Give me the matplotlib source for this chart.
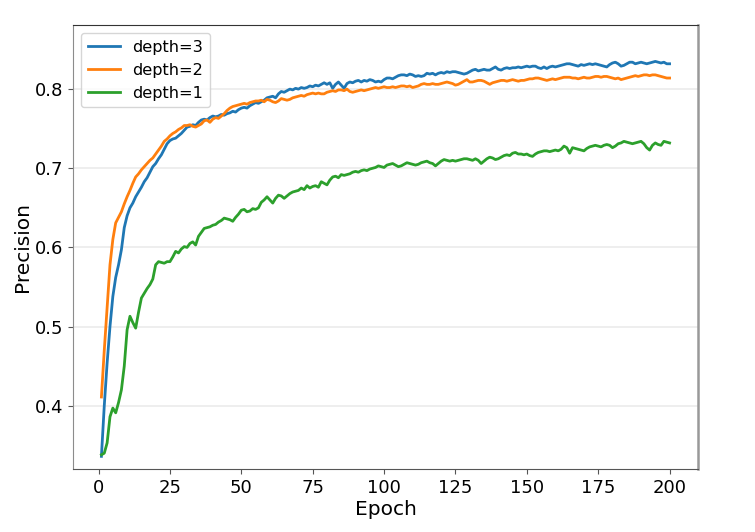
import numpy as np
import matplotlib.pyplot as plt

epochs = np.arange(1, 201)

depth3 = [0.336, 0.400, 0.454, 0.500, 0.538, 0.562, 0.578, 0.597, 0.625, 0.640,
          0.650, 0.656, 0.664, 0.670, 0.676, 0.683, 0.688, 0.695, 0.702, 0.706,
          0.712, 0.717, 0.724, 0.731, 0.735, 0.737, 0.738, 0.741, 0.744, 0.748,
          0.752, 0.753, 0.755, 0.754, 0.758, 0.761, 0.762, 0.761, 0.764, 0.766,
          0.765, 0.766, 0.768, 0.767, 0.769, 0.770, 0.772, 0.771, 0.774, 0.776,
          0.777, 0.776, 0.779, 0.781, 0.783, 0.782, 0.784, 0.786, 0.789, 0.790,
          0.791, 0.789, 0.794, 0.797, 0.796, 0.798, 0.800, 0.799, 0.801, 0.800,
          0.802, 0.801, 0.802, 0.804, 0.803, 0.805, 0.804, 0.806, 0.808, 0.806,
          0.808, 0.801, 0.806, 0.809, 0.805, 0.801, 0.807, 0.809, 0.808, 0.810,
          0.811, 0.809, 0.811, 0.810, 0.812, 0.811, 0.809, 0.810, 0.809, 0.812,
          0.814, 0.814, 0.813, 0.815, 0.817, 0.818, 0.818, 0.817, 0.819, 0.818,
          0.816, 0.817, 0.816, 0.817, 0.820, 0.819, 0.820, 0.818, 0.820, 0.821,
          0.820, 0.822, 0.821, 0.822, 0.822, 0.821, 0.820, 0.819, 0.820, 0.822,
          0.824, 0.825, 0.823, 0.824, 0.825, 0.824, 0.824, 0.826, 0.828, 0.825,
          0.824, 0.826, 0.827, 0.826, 0.827, 0.827, 0.828, 0.827, 0.828, 0.829,
          0.828, 0.829, 0.829, 0.827, 0.826, 0.828, 0.826, 0.828, 0.829, 0.828,
          0.829, 0.830, 0.831, 0.832, 0.832, 0.831, 0.830, 0.829, 0.831, 0.830,
          0.831, 0.832, 0.831, 0.832, 0.831, 0.830, 0.829, 0.828, 0.831, 0.833,
          0.834, 0.832, 0.829, 0.830, 0.832, 0.834, 0.834, 0.832, 0.833, 0.834,
          0.833, 0.832, 0.833, 0.834, 0.835, 0.834, 0.833, 0.834, 0.832, 0.832]

depth2 = [0.411, 0.470, 0.525, 0.578, 0.610, 0.631, 0.638, 0.645, 0.655, 0.664,
          0.672, 0.681, 0.689, 0.693, 0.698, 0.702, 0.706, 0.710, 0.713, 0.718,
          0.723, 0.728, 0.734, 0.737, 0.741, 0.744, 0.746, 0.749, 0.751, 0.754,
          0.754, 0.755, 0.753, 0.752, 0.754, 0.756, 0.760, 0.761, 0.758, 0.762,
          0.764, 0.763, 0.766, 0.769, 0.773, 0.776, 0.778, 0.779, 0.780, 0.781,
          0.782, 0.781, 0.783, 0.784, 0.785, 0.785, 0.786, 0.784, 0.787, 0.786,
          0.784, 0.783, 0.785, 0.788, 0.787, 0.786, 0.787, 0.789, 0.790, 0.791,
          0.792, 0.791, 0.793, 0.794, 0.795, 0.794, 0.795, 0.794, 0.794, 0.796,
          0.797, 0.798, 0.797, 0.799, 0.799, 0.798, 0.800, 0.797, 0.796, 0.797,
          0.798, 0.799, 0.798, 0.799, 0.800, 0.801, 0.802, 0.801, 0.802, 0.803,
          0.802, 0.802, 0.803, 0.802, 0.803, 0.804, 0.804, 0.803, 0.804, 0.802,
          0.803, 0.804, 0.806, 0.807, 0.806, 0.806, 0.807, 0.806, 0.806, 0.807,
          0.808, 0.809, 0.808, 0.807, 0.805, 0.806, 0.808, 0.810, 0.812, 0.809,
          0.809, 0.810, 0.811, 0.811, 0.810, 0.808, 0.806, 0.808, 0.809, 0.810,
          0.811, 0.811, 0.810, 0.811, 0.812, 0.811, 0.810, 0.811, 0.811, 0.812,
          0.813, 0.813, 0.814, 0.814, 0.813, 0.812, 0.811, 0.812, 0.813, 0.812,
          0.813, 0.814, 0.815, 0.815, 0.815, 0.814, 0.814, 0.813, 0.814, 0.815,
          0.814, 0.814, 0.815, 0.816, 0.816, 0.815, 0.816, 0.816, 0.815, 0.814,
          0.813, 0.814, 0.812, 0.813, 0.814, 0.815, 0.816, 0.817, 0.816, 0.817,
          0.818, 0.818, 0.817, 0.818, 0.818, 0.817, 0.816, 0.815, 0.814, 0.814]

depth1 = [0.338, 0.340, 0.353, 0.386, 0.397, 0.391, 0.404, 0.420, 0.450, 0.496,
          0.513, 0.505, 0.498, 0.518, 0.536, 0.542, 0.548, 0.553, 0.560, 0.578,
          0.582, 0.581, 0.580, 0.582, 0.582, 0.588, 0.595, 0.593, 0.598, 0.601,
          0.600, 0.605, 0.607, 0.603, 0.614, 0.619, 0.624, 0.625, 0.626, 0.628,
          0.629, 0.632, 0.634, 0.637, 0.636, 0.635, 0.633, 0.638, 0.642, 0.647,
          0.648, 0.645, 0.646, 0.649, 0.648, 0.650, 0.657, 0.660, 0.664, 0.660,
          0.656, 0.662, 0.666, 0.665, 0.662, 0.665, 0.668, 0.670, 0.671, 0.672,
          0.675, 0.673, 0.678, 0.675, 0.677, 0.678, 0.676, 0.683, 0.681, 0.679,
          0.685, 0.689, 0.690, 0.688, 0.692, 0.691, 0.692, 0.693, 0.695, 0.696,
          0.695, 0.697, 0.698, 0.697, 0.699, 0.700, 0.701, 0.703, 0.702, 0.701,
          0.704, 0.705, 0.706, 0.704, 0.702, 0.703, 0.705, 0.707, 0.706, 0.705,
          0.704, 0.705, 0.707, 0.708, 0.709, 0.707, 0.706, 0.703, 0.706, 0.709,
          0.711, 0.710, 0.709, 0.710, 0.709, 0.710, 0.711, 0.712, 0.712, 0.711,
          0.710, 0.712, 0.710, 0.706, 0.709, 0.712, 0.714, 0.713, 0.711, 0.712,
          0.714, 0.716, 0.717, 0.716, 0.719, 0.720, 0.718, 0.718, 0.717, 0.718,
          0.716, 0.715, 0.718, 0.720, 0.721, 0.722, 0.722, 0.721, 0.722, 0.723,
          0.722, 0.724, 0.728, 0.726, 0.719, 0.726, 0.725, 0.724, 0.723, 0.722,
          0.725, 0.727, 0.728, 0.729, 0.728, 0.727, 0.729, 0.730, 0.729, 0.726,
          0.728, 0.731, 0.732, 0.734, 0.733, 0.732, 0.731, 0.732, 0.733, 0.734,
          0.731, 0.726, 0.723, 0.729, 0.732, 0.730, 0.729, 0.734, 0.733, 0.732]

fig = plt.figure(figsize=(7.55, 5.32), dpi=100)
ax = fig.add_axes([0.0967, 0.1184, 0.8278, 0.8346])

ax.plot(epochs, depth3, color='C0', lw=2, label='depth=3')
ax.plot(epochs, depth2, color='C1', lw=2, label='depth=2')
ax.plot(epochs, depth1, color='C2', lw=2, label='depth=1')

ax.set_ylim(0.320, 0.881)
ax.set_yticks([0.4, 0.5, 0.6, 0.7, 0.8])
ax.set_xticks(range(0, 201, 25))
ax.grid(axis='y', color='#ebebeb', lw=1.2)
ax.set_axisbelow(True)

ax.spines['top'].set_color('#333333')
ax.spines['left'].set_color('#8c8c8c')
ax.spines['bottom'].set_color('#555555')
ax.spines['right'].set_color('#999999')
ax.spines['right'].set_linewidth(1.8)

ax.tick_params(labelsize=13, colors='#555555', labelcolor='black')
ax.set_xlabel('Epoch', fontsize=14.5, labelpad=2)
ax.set_ylabel('Precision', fontsize=14.5, labelpad=2)
ax.legend(loc='upper left', fontsize=11.6)

fig.savefig('out.png', dpi=100)
